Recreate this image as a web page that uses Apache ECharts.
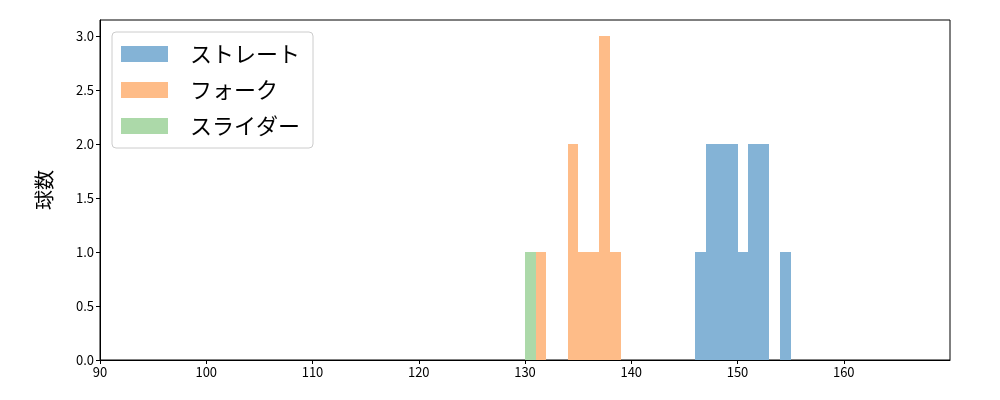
<!DOCTYPE html>
<html>
<head>
<meta charset="utf-8">
<script src="https://cdn.jsdelivr.net/npm/echarts@6/dist/echarts.min.js"></script>
<style>html,body{margin:0;padding:0;background:#fff}#c{width:1000px;height:400px}</style>
</head>
<body>
<div id="c"></div>
<script>
// Histogram data: bin start (km/h), bin width 1, count
const seriesNames = ['ストレート', 'フォーク', 'スライダー'];
const straightBins = [146, 147, 148, 149, 150, 151, 152, 153, 154];
const straightCounts = [1, 2, 2, 2, 1, 2, 2, 0, 1];
const forkBins = [131, 134, 135, 136, 137, 138];
const forkCounts = [1, 2, 1, 1, 3, 1];
const sliderBins = [130];
const sliderCounts = [1];
const binWidth = 1;
const xTicks = [90, 100, 110, 120, 130, 140, 150, 160];
const yTicks = [0, 0.5, 1.0, 1.5, 2.0, 2.5, 3.0];
const colors = ['#84b3d6', '#febc88', '#acd9a9'];

function toData(bins, counts) {
  return bins.map((b, i) => [b, b + binWidth, counts[i]]);
}
function renderItem(params, api) {
  const p0 = api.coord([api.value(0), api.value(2)]);
  const p1 = api.coord([api.value(1), 0]);
  const x0 = Math.round(p0[0]), x1 = Math.round(p1[0]);
  const y0 = Math.round(p0[1]), y1 = Math.round(p1[1]);
  return {
    type: 'rect',
    shape: { x: x0, y: y0, width: x1 - x0, height: y1 - y0 },
    style: { fill: api.visual('color') }
  };
}
const datasets = [toData(straightBins, straightCounts), toData(forkBins, forkCounts), toData(sliderBins, sliderCounts)];
const font = '"Noto Sans CJK JP", "DejaVu Sans", sans-serif';

const chart = echarts.init(document.getElementById('c'), null, { renderer: 'canvas' });
chart.setOption({
  animation: false,
  textStyle: { fontFamily: font },
  grid: { left: 100, right: 50, top: 20, bottom: 40, show: true, borderColor: '#000', borderWidth: 1, backgroundColor: 'transparent' },
  legend: {
    orient: 'vertical',
    left: 112, top: 32,
    padding: [11, 13, 11, 9],
    itemWidth: 47, itemHeight: 16, itemGap: 14,
    icon: 'rect',
    backgroundColor: '#fff',
    borderColor: '#cccccc', borderWidth: 1, borderRadius: 4,
    textStyle: { fontSize: 22, color: '#000', fontFamily: font, padding: [0, 0, 0, 17] },
    data: seriesNames
  },
  xAxis: {
    type: 'value', min: 90, max: 170, interval: 10,
    axisLine: { show: true, lineStyle: { color: '#000', width: 1 } },
    axisTick: { show: true, length: 4, lineStyle: { color: '#000' }, customValues: xTicks },
    splitLine: { show: false },
    axisLabel: { color: '#000', fontSize: 13, margin: 6, fontFamily: font, customValues: xTicks,
      formatter: v => String(v) }
  },
  yAxis: {
    type: 'value', min: 0, max: 3.15, interval: 0.5,
    name: '球数', nameLocation: 'middle', nameGap: 46,
    nameTextStyle: { fontSize: 20, color: '#000', fontFamily: font },
    axisLine: { show: true, lineStyle: { color: '#000', width: 1 } },
    axisTick: { show: true, length: 4, lineStyle: { color: '#000' }, customValues: yTicks },
    splitLine: { show: false },
    axisLabel: { color: '#000', fontSize: 13, margin: 6, fontFamily: font, customValues: yTicks,
      formatter: v => Number(v).toFixed(1) }
  },
  series: seriesNames.map((n, i) => ({
    name: n, type: 'custom', renderItem: renderItem,
    itemStyle: { color: colors[i] },
    encode: { x: [0, 1], y: 2 },
    data: datasets[i]
  }))
});
</script>
</body>
</html>
